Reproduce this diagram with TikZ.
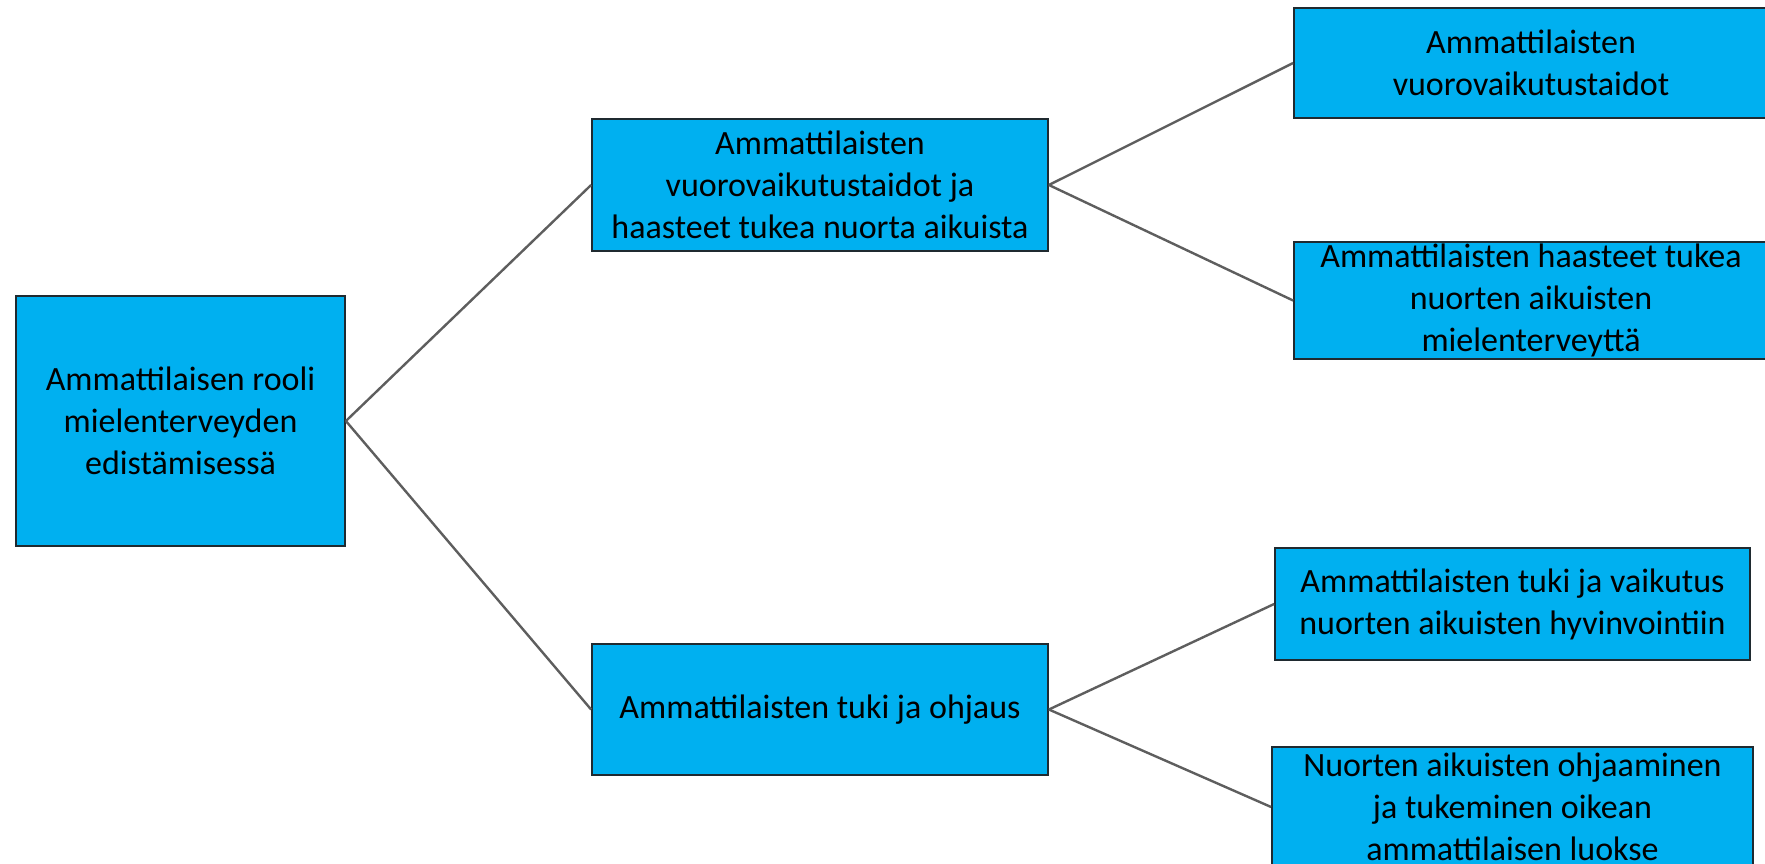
\documentclass[tikz,border=0pt]{standalone}
\usepackage{fontspec}
\setmainfont{Carlito}
\definecolor{boxfill}{HTML}{00B0F0}
\definecolor{boxline}{HTML}{1F2A30}
\definecolor{linkgray}{HTML}{5E5E5E}
\begin{document}
\begin{tikzpicture}[x=1pt,y=-1pt,
  topic/.style={draw=boxline, line width=1.8pt, fill=boxfill, rectangle,
    inner sep=0pt, align=center, text=black,
    font=\fontsize{34}{42}\selectfont},
  link/.style={draw=linkgray, line width=2.4pt}]
\useasboundingbox (0,0) rectangle (1765,863);
% node boxes, sized by their corners
\node[topic, minimum width=329pt, minimum height=250pt] (root) at (180.5,421)
  {Ammattilaisen rooli\\mielenterveyden\\edistämisessä};
\node[topic, minimum width=456pt, minimum height=132pt] (mid1) at (820,185)
  {Ammattilaisten\\vuorovaikutustaidot ja\\haasteet tukea nuorta aikuista};
\node[topic, minimum width=456pt, minimum height=131pt] (mid2) at (820,709.5)
  {Ammattilaisten tuki ja ohjaus};
\node[topic, minimum width=474pt, minimum height=110pt] (r1) at (1531,63)
  {Ammattilaisten\\vuorovaikutustaidot};
\node[topic, minimum width=474pt, minimum height=117pt] (r2) at (1531,300.5)
  {Ammattilaisten haasteet tukea\\nuorten aikuisten\\mielenterveyttä};
\node[topic, minimum width=475pt, minimum height=112pt] (r3) at (1512.5,604)
  {Ammattilaisten tuki ja vaikutus\\nuorten aikuisten hyvinvointiin};
\node[topic, minimum width=481pt, minimum height=120pt] (r4) at (1512.5,807)
  {Nuorten aikuisten ohjaaminen\\ja tukeminen oikean\\ammattilaisen luokse};
% tree connectors
\draw[link] (root.east) -- (mid1.west);
\draw[link] (root.east) -- (mid2.west);
\draw[link] (mid1.east) -- (r1.west);
\draw[link] (mid1.east) -- (r2.west);
\draw[link] (mid2.east) -- (r3.west);
\draw[link] (mid2.east) -- (r4.west);
\end{tikzpicture}
\end{document}
